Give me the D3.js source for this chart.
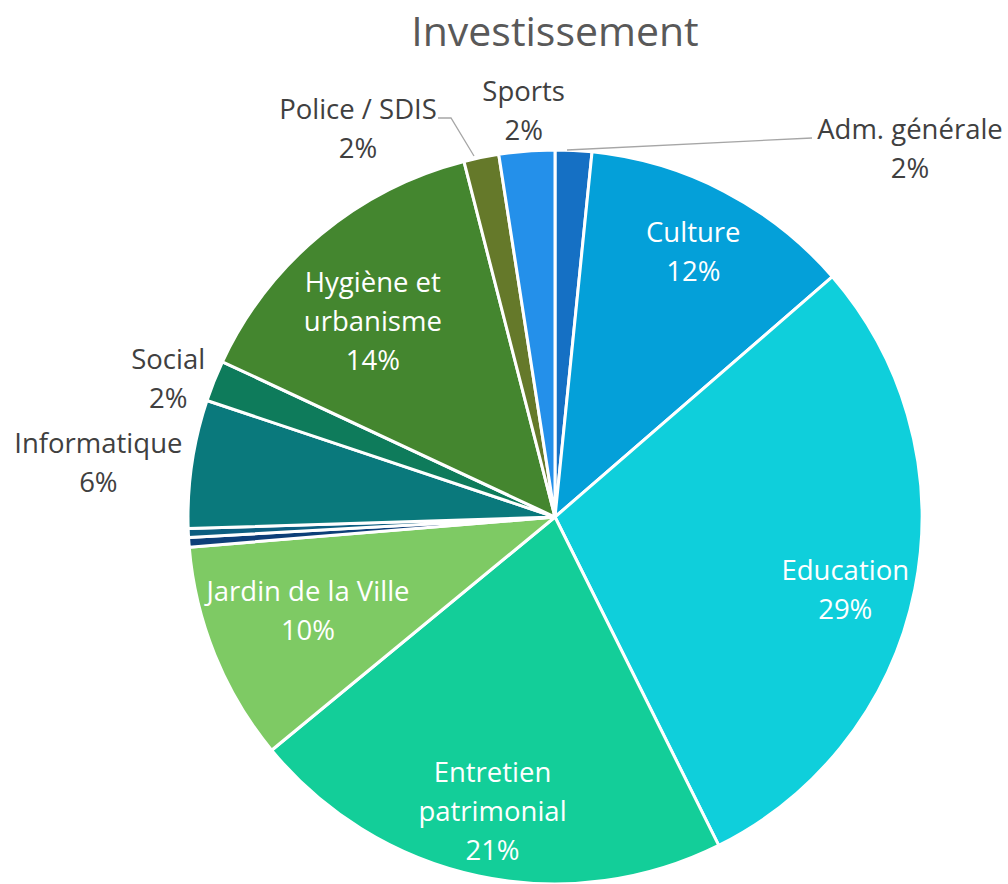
<!DOCTYPE html>
<html><head><meta charset="utf-8">
<script src="https://cdn.jsdelivr.net/npm/d3@7"></script>
<style>body{margin:0;background:#fff}svg{display:block}text{font-family:"Open Sans",Lato,sans-serif}</style>
</head><body>
<svg id="c" width="1008" height="884"></svg>
<script>
const title = "Investissement";
const categories = ["Adm. générale","Culture","Education","Entretien\npatrimonial","Jardin de la Ville","Autre 1","Autre 2","Informatique","Social","Hygiène et\nurbanisme","Police / SDIS","Sports"];
const values = [1.61,12.03,29.0,21.4,9.65,0.42,0.39,5.64,1.81,14.06,1.54,2.45];
const showLabel = [true,true,true,true,true,false,false,true,true,true,true,true];
const colors = ["#1570c4","#04a0d9","#0fcfdb","#13ce99","#7eca64","#0d3f78","#0c5e80","#0a797c","#0e7b5b","#44862f","#65792a","#2490ea"];

const svg = d3.select("#c");
const cx = 555, cy = 517, R = 367;

svg.append("text").attr("x", cx).attr("y", 46).attr("text-anchor","middle")
  .attr("fill","#595959").attr("font-size", 41).text(title);

const data = categories.map((c,i)=>({name:c, value:values[i], color:colors[i], show:showLabel[i]}));
const total = d3.sum(values);
const pie = d3.pie().sort(null).value(d=>d.value).startAngle(0).endAngle(2*Math.PI);
const arcs = pie(data);
const arc = d3.arc().innerRadius(0).outerRadius(R);

const g = svg.append("g").attr("transform",`translate(${cx},${cy})`);
g.selectAll("path").data(arcs).join("path")
  .attr("d", arc).attr("fill", d=>d.data.color)
  .attr("stroke","#fff").attr("stroke-width",3).attr("stroke-linejoin","round");

const pct = d => Math.round(d.data.value/total*100) + "%";
const polar = (a, r) => [r*Math.sin(a), -r*Math.cos(a)];
const layout = {
  "Culture": {r:300},
  "Education": {r:299, da:0.045},
  "Entretien\npatrimonial": {r:300},
  "Jardin de la Ville": {r:264, da:0.025},
  "Hygiène et\nurbanisme": {r:268, da:-0.055},
  "Social": {r:411, da:-0.035, out:true},
  "Informatique": {r:460, da:-0.025, out:true},
  "Sports": {r:408, out:true},
  "Police / SDIS": {r:0, out:true, fixed:[-197,-389], leader:[[-117,-399],[-104,-399],[-81,-361]]},
  "Adm. générale": {r:0, out:true, fixed:[355,-369], leader:[[257,-379],[12,-367]]}
};
const lh = 39;
arcs.forEach(d=>{
  if(!d.data.show) return;
  const L = layout[d.data.name];
  const mid = (d.startAngle+d.endAngle)/2 + (L.da||0);
  const p = L.fixed ? L.fixed : polar(mid, L.r);
  if (L.leader) {
    g.append("path").attr("d", d3.line()(L.leader)).attr("fill","none")
      .attr("stroke","#a6a6a6").attr("stroke-width",1.3);
  }
  const lines = d.data.name.split("\n").concat([pct(d)]);
  const t = g.append("text").attr("text-anchor","middle")
    .attr("fill", L.out ? "#404040" : "#ffffff").attr("font-size", 27.5);
  const y0 = p[1] - (lines.length-1)*lh/2 + 10.5;
  lines.forEach((s,i)=>t.append("tspan").attr("x",p[0]).attr("y",y0+i*lh).text(s));
});
</script>
</body></html>
